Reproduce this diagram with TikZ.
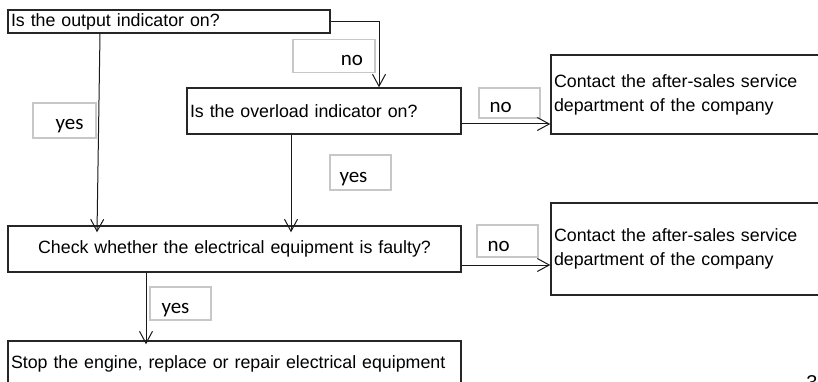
\documentclass[tikz,border=0pt]{standalone}
\usepackage{fontspec}
\setmainfont{Liberation Sans}
\newfontfamily\lblfont{Carlito}
\usetikzlibrary{arrows.meta}
\newcommand{\lowtxt}[2]{\raisebox{-#1}[0pt][0pt]{#2}}
\tikzset{
  box/.style={draw=black!85, line width=1.4pt, inner sep=0pt, font=\fontsize{17.8}{24}\selectfont},
  lbl/.style={draw=black!22, line width=1.2pt, inner sep=0pt, font=\lblfont\fontsize{21}{22}\selectfont},
  conn/.style={draw=black!90, line width=1pt, -{Straight Barb[length=12pt,width=13pt,line width=1pt]}}
}
\begin{document}
\begin{tikzpicture}[x=1pt,y=-1pt]
\useasboundingbox[fill=white] (0,0) rectangle (818,382);
% main boxes
\node[box, minimum width=322pt, minimum height=23pt, text width=316pt, align=left] (b1) at (169,21.5) {Is the output indicator on?};
\node[box, minimum width=274pt, minimum height=46pt, text width=268pt, align=left] (b2) at (324,111) {Is the overload indicator on?};
\node[box, minimum width=279pt, minimum height=79pt, text width=273pt, align=left] (b3) at (690.5,94.5) {Contact the after-sales service\\department of the company};
\node[box, minimum width=453pt, minimum height=46pt, text width=445pt, align=center] (b4) at (234.5,249) {Check whether the electrical equipment is faulty?};
\node[box, minimum width=279pt, minimum height=92pt, text width=273pt, align=left] (b5) at (690.5,249) {Contact the after-sales service\\department of the company};
\node[box, minimum width=453pt, minimum height=45pt, text width=447pt, align=left] (b6) at (234.5,363.5) {Stop the engine, replace or repair electrical equipment};
% labels
\node[lbl, minimum width=82pt, minimum height=33pt, text width=58pt, align=right] (l1) at (334,56) {\lowtxt{9.5pt}{no}};
\node[lbl, minimum width=61pt, minimum height=30pt, text width=40pt, align=left] (l2) at (509.5,103) {\lowtxt{10pt}{no}};
\node[lbl, minimum width=63pt, minimum height=35pt, text width=38pt, align=right] (l3) at (64.5,120.5) {\lowtxt{9.5pt}{yes}};
\node[lbl, minimum width=61pt, minimum height=35pt, text width=42pt, align=left] (l4) at (360.5,172.5) {\lowtxt{9.5pt}{yes}};
\node[lbl, minimum width=61pt, minimum height=32pt, text width=40pt, align=left] (l5) at (507.5,241) {\lowtxt{10pt}{no}};
\node[lbl, minimum width=61pt, minimum height=33pt, text width=38pt, align=left] (l6) at (180.5,303.5) {\lowtxt{9.5pt}{yes}};
% connectors
\draw[conn] (b1.east) -| ([xshift=55pt]b2.north);
\draw[conn] ([yshift=-13pt]b2.east) -- ([yshift=-13pt]b2.east -| b3.west);
\draw[conn] ([xshift=-69pt]b1.south) -- ([xshift=-137.5pt,yshift=-7pt]b4.north);
\draw[conn] ([xshift=-33pt]b2.south) -- ([xshift=56.5pt,yshift=-7pt]b4.north);
\draw[conn] ([yshift=-16pt]b4.east) -- ([yshift=-16pt]b4.east -| b5.west);
\draw[conn] ([xshift=-88.5pt]b4.south) -- ([xshift=-88.5pt,yshift=-4pt]b6.north);
% page number partly outside
\node[inner sep=0pt, anchor=north, font=\fontsize{20}{22}\selectfont] (pg) at (812,375) {3};
\end{tikzpicture}
\end{document}
